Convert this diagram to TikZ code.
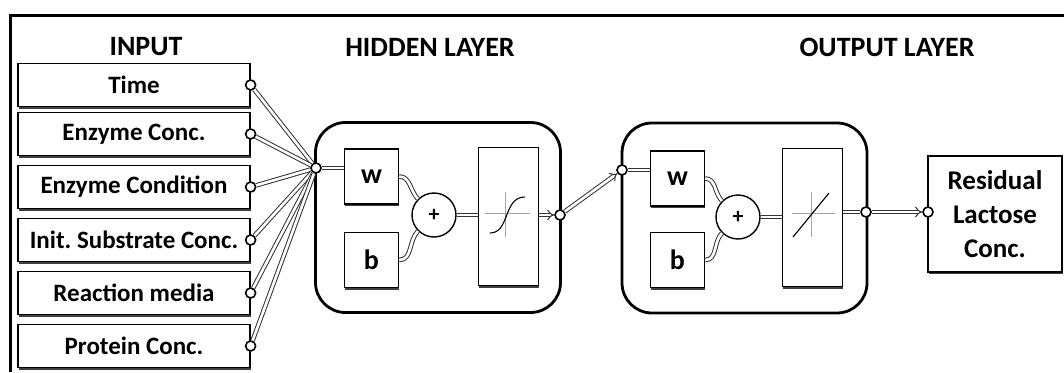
\documentclass[tikz,border=0pt]{standalone}
\usepackage{fontspec}
\setmainfont{Carlito}
\usetikzlibrary{arrows.meta,shadows}

\tikzset{
    box/.style = {draw, fill = white, line width = 1.2pt, inner sep = 0pt,
        drop shadow = {shadow xshift = 0.8pt, shadow yshift = -2.2pt, fill = black!75, opacity = 1}},
    inbox/.style = {box, minimum width = 232, minimum height = 43, font = \fontsize{25}{30}\selectfont\bfseries},
    wbox/.style = {box, minimum width = 54, minimum height = 55, font = \fontsize{28}{30}\selectfont\bfseries},
    tfbox/.style = {box, minimum width = 60, minimum height = 138},
    layer/.style = {draw, rounded corners = 30pt, line width = 2.8pt, minimum width = 245, minimum height = 190},
    sumnode/.style = {circle, draw, fill = white, line width = 1.4pt, minimum size = 44, inner sep = 0pt,
        font = \fontsize{22}{22}\selectfont\bfseries},
    port/.style = {circle, draw, fill = white, line width = 1.6pt, inner sep = 0pt, minimum size = 10},
    head/.style = {font = \fontsize{28}{30}\selectfont\bfseries},
    wire/.style = {draw = black!80, line width = 1pt, double = white, double distance = 2.6pt},
    wirearrow/.style = {wire, -{Implies}},
    axis/.style = {draw = black!35, line width = 0.8pt},
}

\begin{document}
\begin{tikzpicture}[x = 1pt, y = -1pt]
    \useasboundingbox (0,0) rectangle (1064,372);
    \draw [line width = 3pt] (1064,15) -- (10,15) -- (10,372);

    \node [head] (inhead) at (146,47) {INPUT};
    \node [head] (hidhead) at (430,47) {HIDDEN LAYER};
    \node [head] (outhead) at (887,47) {OUTPUT LAYER};

    % inputs
    \node [inbox] (time) at (134,85) {Time};
    \node [inbox] (econc) at (134,134) {Enzyme Conc.};
    \node [inbox] (econd) at (134,187) {Enzyme Condition};
    \node [inbox] (subst) at (134,240) {Init.\ Substrate Conc.};
    \node [inbox] (media) at (134,293) {Reaction media};
    \node [inbox] (prot) at (134,346) {Protein Conc.};
    \node [port] (ptime) at (time.east) {};
    \node [port] (peconc) at (econc.east) {};
    \node [port] (pecond) at (econd.east) {};
    \node [port] (psubst) at (subst.east) {};
    \node [port] (pmedia) at (media.east) {};
    \node [port] (pprot) at (prot.east) {};

    % hidden layer
    \node [layer] (hidden) at (438,217.5) {};
    \node [wbox] (w1) at (371.5,176.5) {w};
    \node [wbox] (b1) at (371.5,260) {b};
    \node [sumnode] (plus1) at (434,215) {+};
    \node [tfbox] (tf1) at (508.5,216.5) {};
    \node [port] (hub) at (316,168) {};
    \node [port] (h1out) at (560,215) {};
    \draw [axis] (485,213) -- (530,213);
    \draw [axis] (505,192) -- (505,237);
    \draw [line width = 1.1pt] (490,233) .. controls (510,233) and (503,197) .. (525,197);

    % output layer
    \node [layer] (outlayer) at (744.5,218) {};
    \node [wbox] (w2) at (677.5,178.5) {w};
    \node [wbox] (b2) at (677.5,260) {b};
    \node [sumnode] (plus2) at (738,217) {+};
    \node [tfbox] (tf2) at (812.5,217.5) {};
    \node [port] (o1in) at (622,170) {};
    \node [port] (o1out) at (866,212) {};
    \draw [axis] (792,213) -- (835,213);
    \draw [axis] (811,192) -- (811,237);
    \draw [line width = 1.1pt] (793,237) -- (829,193);

    % result
    \node [box, minimum width = 134, minimum height = 116, align = center,
        font = \fontsize{27}{34}\selectfont\bfseries] (res) at (995,214) {Residual\\Lactose\\Conc.};
    \node [port] (resin) at (928,212) {};

    % wires
    \draw [wire] (ptime) -- (hub);
    \draw [wire] (peconc) -- (hub);
    \draw [wire] (pecond) -- (hub);
    \draw [wire] (psubst) -- (hub);
    \draw [wire] (pmedia) -- (hub);
    \draw [wire] (pprot) -- (hub);

    \draw [wire] (hub) -- (hub -| w1.west);
    \draw [wire] (w1.east) to [out = 0, in = 135] (plus1);
    \draw [wire] (b1.east) to [out = 0, in = -135] (plus1);
    \draw [wire] (plus1) -- (plus1 -| tf1.west);
    \draw [wirearrow] (tf1.east |- h1out) -- (h1out);

    \draw [wirearrow] (h1out) -- (o1in);

    \draw [wire] (o1in) -- (o1in -| w2.west);
    \draw [wire] (w2.east) to [out = 0, in = 135] (plus2);
    \draw [wire] (b2.east) to [out = 0, in = -135] (plus2);
    \draw [wire] (plus2) -- (plus2 -| tf2.west);
    \draw [wire] (tf2.east |- o1out) -- (o1out);

    \draw [wirearrow] (o1out) -- (resin);
\end{tikzpicture}
\end{document}
